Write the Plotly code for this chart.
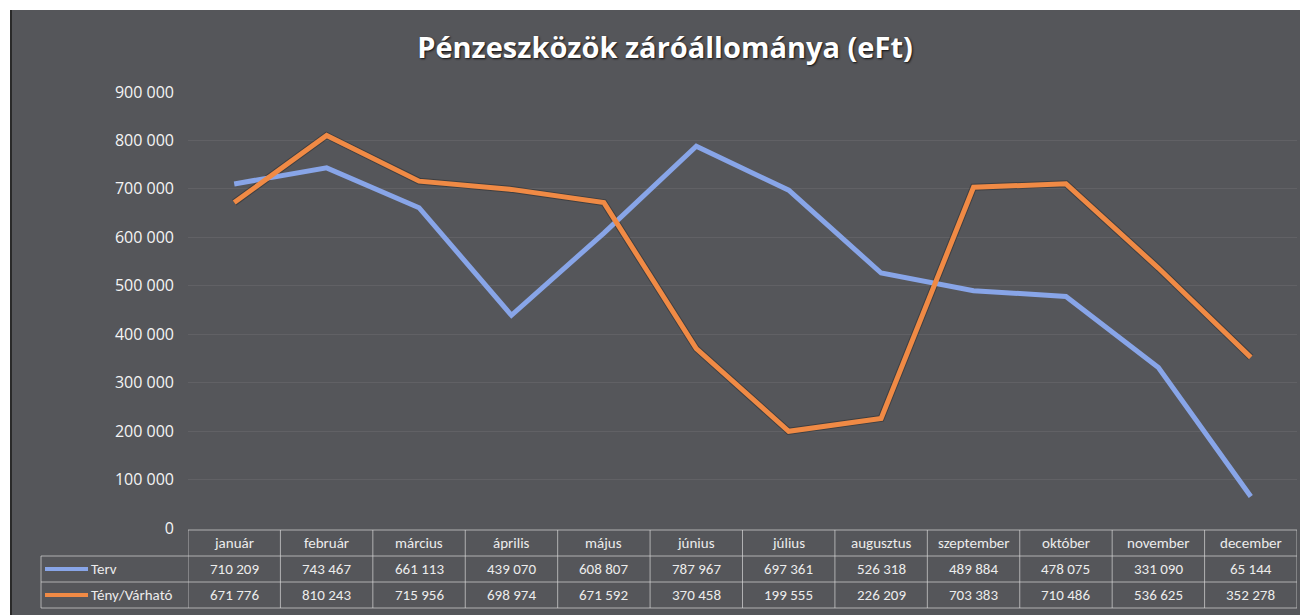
import plotly.graph_objects as go

months = ["január", "február", "március", "április", "május", "június",
          "július", "augusztus", "szeptember", "október", "november", "december"]
terv = [710209, 743467, 661113, 439070, 608807, 787967,
        697361, 526318, 489884, 478075, 331090, 65144]
teny = [671776, 810243, 715956, 698974, 671592, 370458,
        199555, 226209, 703383, 710486, 536625, 352278]
series_names = ["Terv", "Tény/Várható"]
series_colors = ["#88a5e8", "#f08a45"]
y_ticks = [0, 100000, 200000, 300000, 400000, 500000, 600000, 700000, 800000, 900000]
title = "Pénzeszközök záróállománya (eFt)"

# the page body adds an 8px margin; work in screenshot pixel coordinates
OFF = 8
W, H = 1308 - OFF, 615 - OFF
plot_left, plot_right, plot_top, plot_bottom = 188, 1297, 92, 528
L = plot_left - OFF
R = (W + OFF) - plot_right
T = plot_top - OFF
B = (H + OFF) - plot_bottom
pw, ph = plot_right - plot_left, plot_bottom - plot_top

def py(pix):
    return (plot_bottom - pix) / ph

def px(pix):
    return (pix - plot_left) / pw

def fmt(v):
    return f"{v:,}".replace(",", " ")

x_idx = list(range(len(months)))
fig = go.Figure()
fig.add_trace(go.Scatter(x=x_idx, y=teny, mode="lines",
                         line=dict(color="rgba(20,20,20,0.35)", width=7),
                         hoverinfo="skip", showlegend=False))
fig.add_trace(go.Scatter(x=x_idx, y=terv, mode="lines", name=series_names[0],
                         line=dict(color=series_colors[0], width=5)))
fig.add_trace(go.Scatter(x=x_idx, y=teny, mode="lines", name=series_names[1],
                         line=dict(color=series_colors[1], width=5)))

shapes = []
annotations = []
border = dict(color="rgba(215,215,215,0.7)", width=1)

# extra white scan border beyond the page margin
shapes.append(dict(type="rect", xref="paper", yref="paper", x0=px(0), x1=px(1320),
                   y0=py(0), y1=py(10), fillcolor="white", line=dict(width=0), layer="above"))
shapes.append(dict(type="rect", xref="paper", yref="paper", x0=px(0), x1=px(10),
                   y0=py(0), y1=py(640), fillcolor="white", line=dict(width=0), layer="above"))
shapes.append(dict(type="line", xref="paper", yref="paper", x0=px(11), x1=px(11),
                   y0=py(10), y1=py(640), line=dict(color="#2a2a2a", width=2)))

# data table
row_y = [530, 556, 582, 608]
n = len(months)
shapes.append(dict(type="line", xref="x", yref="paper", x0=-0.5, x1=n - 0.5,
                   y0=py(row_y[0]), y1=py(row_y[0]), line=border))
for yy in row_y[1:]:
    shapes.append(dict(type="line", xref="paper", yref="paper", x0=px(41), x1=1,
                       y0=py(yy), y1=py(yy), line=border))
for i in range(n + 1):
    shapes.append(dict(type="line", xref="x", yref="paper", x0=i - 0.5, x1=i - 0.5,
                       y0=py(row_y[0]), y1=py(row_y[3]), line=border))
shapes.append(dict(type="line", xref="paper", yref="paper", x0=px(41), x1=px(41),
                   y0=py(row_y[1]), y1=py(row_y[3]), line=border))

cal = "Carlito, Liberation Sans Narrow, Roboto, sans-serif"
tfont = dict(family=cal, size=15, color="#ececec")

def cell(x, yc, text, xref="x", xanchor="center"):
    return dict(x=x, y=yc, xref=xref, yref="paper", text=text, showarrow=False,
                xanchor=xanchor, yanchor="middle", font=tfont)

for i, m in enumerate(months):
    annotations.append(cell(i, py((row_y[0] + row_y[1]) / 2), m))
    annotations.append(cell(i, py((row_y[1] + row_y[2]) / 2), fmt(terv[i])))
    annotations.append(cell(i, py((row_y[2] + row_y[3]) / 2), fmt(teny[i])))

for k, (nm, col) in enumerate(zip(series_names, series_colors)):
    yc = py((row_y[k + 1] + row_y[k + 2]) / 2)
    shapes.append(dict(type="line", xref="paper", yref="paper", x0=px(45), x1=px(88),
                       y0=yc, y1=yc, line=dict(color=col, width=4)))
    annotations.append(cell(px(89), yc, nm, xref="paper", xanchor="left"))

fig.update_layout(
    width=W, height=H,
    margin=dict(l=L, r=R, t=T, b=B),
    paper_bgcolor="#55565a",
    plot_bgcolor="rgba(0,0,0,0)",
    showlegend=False,
    separators=", ",
    title=dict(text="<b>" + title + "</b>", x=(665 - OFF) / W, xanchor="center",
               y=1 - (48 - OFF) / H, yanchor="middle",
               font=dict(family="Open Sans, Noto Sans, sans-serif", size=29, color="white",
                         shadow="1px 1px 2px #111")),
    xaxis=dict(range=[-0.5, n - 0.5], showticklabels=False, showgrid=False,
               zeroline=False, showline=False, fixedrange=True),
    yaxis=dict(range=[0, 900000], tickvals=y_ticks, tickformat=",d",
               showgrid=True, gridcolor="rgba(255,255,255,0.07)", gridwidth=1,
               zeroline=False, showline=False, ticks="", ticklabelstandoff=13,
               tickfont=dict(family="Open Sans, sans-serif", size=16, color="#f4f4f4")),
    shapes=shapes,
    annotations=annotations,
)

fig.write_html("out.html")
